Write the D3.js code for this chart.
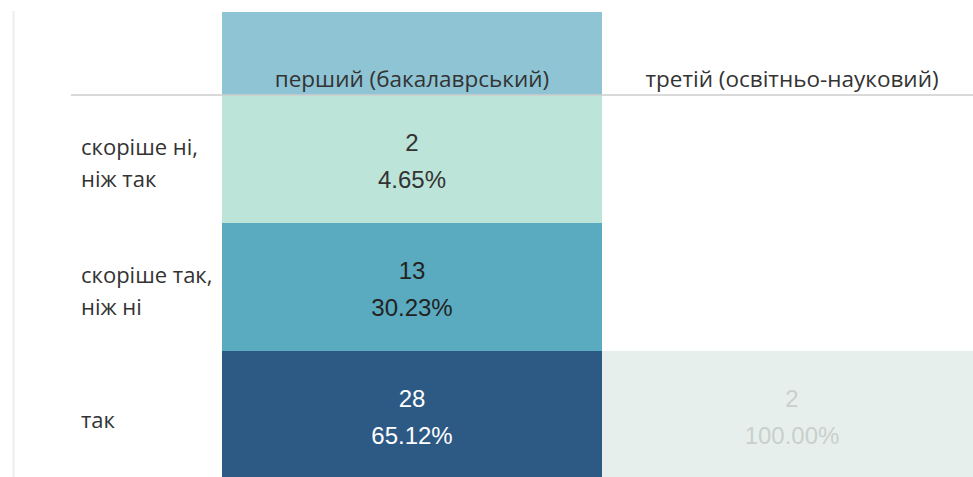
<!DOCTYPE html>
<html>
<head>
<meta charset="utf-8">
<script src="https://cdn.jsdelivr.net/npm/d3@7"></script>
<style>
  body { margin: 0; background: #fff; }
  svg { display: block; }
</style>
</head>
<body>
<script>
var w = 973;
var h = 477;

// data
var levels = ["перший (бакалаврський)", "третій (освітньо-науковий)"];
var answers = ["скоріше ні, ніж так", "скоріше так, ніж ні", "так"];
var answerLines = [["скоріше ні,", "ніж так"], ["скоріше так,", "ніж ні"], ["так"]];
var countsFirst = [2, 13, 28];
var percentFirst = [4.65, 30.23, 65.12];
var countsThird = [null, null, 2];
var percentThird = [null, null, 100.00];

var cells = [];
answers.forEach(function(a, i) {
    if (countsFirst[i] != null)
	cells.push({level: levels[0], answer: a, n: countsFirst[i], p: percentFirst[i], faded: false});
    if (countsThird[i] != null)
	cells.push({level: levels[1], answer: a, n: countsThird[i], p: percentThird[i], faded: true});
});

var xScale = d3.scaleBand().domain(levels).range([222, 982]);
var yScale = d3.scaleBand().domain(answers).range([95, 479]);

var fill = d3.scaleOrdinal().domain(answers).range(["#bce4d8", "#5aabbf", "#2d5985"]);
var textFill = d3.scaleOrdinal().domain(answers).range(["#333333", "#222222", "#ffffff"]);

var svg = d3.select("body").append("svg")
    .attr("width", w)
    .attr("height", h);

// faint left border
svg.append("line")
    .attr("x1", 13.5).attr("x2", 13.5)
    .attr("y1", 11).attr("y2", h)
    .attr("stroke", "#eeeeee")
    .attr("stroke-width", 2);

// highlighted header of first column
svg.append("rect")
    .attr("x", xScale(levels[0]))
    .attr("y", 12)
    .attr("width", xScale.bandwidth())
    .attr("height", 95 - 12)
    .attr("fill", "#8ec4d4");

svg.selectAll("rect.cell")
    .data(cells)
    .enter()
    .append("rect")
    .attr("class", "cell")
    .attr("x", function(d) { return xScale(d.level); })
    .attr("y", function(d) { return yScale(d.answer); })
    .attr("width", xScale.bandwidth())
    .attr("height", yScale.bandwidth())
    .attr("fill", function(d) { return d.faded ? "#e6efec" : fill(d.answer); });

// header rule
svg.append("line")
    .attr("x1", 71).attr("x2", w)
    .attr("y1", 95).attr("y2", 95)
    .attr("stroke", "#cccccc")
    .attr("stroke-width", 1.5);

// column headers
svg.selectAll("text.col")
    .data(levels)
    .enter()
    .append("text")
    .attr("class", "col")
    .text(function(d) { return d; })
    .attr("x", function(d) { return xScale(d) + xScale.bandwidth() / 2; })
    .attr("y", 87)
    .attr("text-anchor", "middle")
    .attr("font-family", "Open Sans")
    .attr("font-size", "22.5px")
    .attr("fill", "#333333");

// row labels
var rowLabel = svg.selectAll("text.row")
    .data(answers)
    .enter()
    .append("text")
    .attr("class", "row")
    .attr("font-family", "Open Sans")
    .attr("font-size", "22px")
    .attr("fill", "#333333");

rowLabel.each(function(d, i) {
    var lines = answerLines[i];
    var y0 = yScale(d) + (lines.length == 1 ? 77 : 60);
    d3.select(this).selectAll("tspan")
	.data(lines)
	.enter()
	.append("tspan")
	.attr("x", 81)
	.attr("y", function(l, j) { return y0 + j * 32; })
	.text(function(l) { return l; });
});

// cell values
svg.selectAll("text.count")
    .data(cells)
    .enter()
    .append("text")
    .attr("class", "count")
    .text(function(d) { return d.n; })
    .attr("x", function(d) { return xScale(d.level) + xScale.bandwidth() / 2; })
    .attr("y", function(d) { return yScale(d.answer) + 56; })
    .attr("text-anchor", "middle")
    .attr("font-family", "Liberation Sans")
    .attr("font-size", "24px")
    .attr("fill", function(d) { return d.faded ? "#c9cfcd" : textFill(d.answer); });

svg.selectAll("text.pct")
    .data(cells)
    .enter()
    .append("text")
    .attr("class", "pct")
    .text(function(d) { return d.p.toFixed(2) + "%"; })
    .attr("x", function(d) { return xScale(d.level) + xScale.bandwidth() / 2; })
    .attr("y", function(d) { return yScale(d.answer) + 93; })
    .attr("text-anchor", "middle")
    .attr("font-family", "Liberation Sans")
    .attr("font-size", "24px")
    .attr("fill", function(d) { return d.faded ? "#c9cfcd" : textFill(d.answer); });
</script>
</body>
</html>
